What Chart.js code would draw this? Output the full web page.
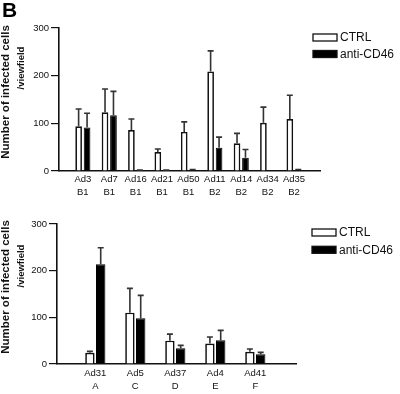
<!DOCTYPE html>
<html>
<head>
<meta charset="utf-8">
<script src="https://cdn.jsdelivr.net/npm/chart.js@4/dist/chart.umd.min.js"></script>
<style>
  body { margin: 0; background: #fff; }
  #wrap { position: relative; width: 400px; height: 394px; }
  canvas { position: absolute; left: 0; }
  #topChart { top: 0; }
  #bottomChart { top: 200px; }
</style>
</head>
<body>
<div id="wrap">
  <canvas id="topChart" width="400" height="200"></canvas>
  <canvas id="bottomChart" width="400" height="194"></canvas>
</div>
<script>
// top panel: species B
const topNames = ["Ad3", "Ad7", "Ad16", "Ad21", "Ad50", "Ad11", "Ad14", "Ad34", "Ad35"];
const topGroups = ["B1", "B1", "B1", "B1", "B1", "B2", "B2", "B2", "B2"];
const topCtrl = [94, 123, 86, 40, 82, 209, 58, 101, 109];
const topCtrlErr = [36, 49, 23, 6, 21, 43, 21, 33, 50];
const topCd46 = [91, 117, 1, 1, 2, 49, 28, 0, 2];
const topCd46Err = [30, 50, 1, 1, 1, 22, 17, 0, 1];

// bottom panel: other species
const botNames = ["Ad31", "Ad5", "Ad37", "Ad4", "Ad41"];
const botGroups = ["A", "C", "D", "E", "F"];
const botCtrl = [24, 110, 50, 44, 26];
const botCtrlErr = [3, 52, 14, 14, 6];
const botCd46 = [214, 98, 34, 51, 21];
const botCd46Err = [35, 49, 6, 21, 4];

const yTicks = [0, 100, 200, 300];
const seriesNames = ["CTRL", "anti-CD46"];
const yTitle = ["Number of infected cells", "/viewfield"];

const INK = "#111";
const FONT = "'Liberation Sans', Arial, sans-serif";

// error bars: upper whisker with a cap
const errorBars = {
    id: "errorBars",
    afterDatasetsDraw(chart) {
        const ctx = chart.ctx;
        const yScale = chart.scales.y;
        chart.data.datasets.forEach((ds, i) => {
            chart.getDatasetMeta(i).data.forEach((bar, j) => {
                const e = ds.errors[j];
                if (!e) return;
                const top = yScale.getPixelForValue(ds.data[j].y + e);
                ctx.save();
                ctx.strokeStyle = "#333";
                ctx.lineWidth = 1.6;
                ctx.beginPath();
                ctx.moveTo(bar.x, bar.y);
                ctx.lineTo(bar.x, top);
                ctx.moveTo(bar.x - 3, top);
                ctx.lineTo(bar.x + 3, top);
                ctx.stroke();
                ctx.restore();
            });
        });
    }
};

// legend boxes, rotated y title and panel letter
const decor = {
    id: "decor",
    afterDraw(chart, args, opts) {
        const ctx = chart.ctx;
        ctx.save();
        // legend
        chart.data.datasets.forEach((ds, i) => {
            const cy = opts.legendY[i];
            ctx.fillStyle = ds.backgroundColor;
            ctx.fillRect(opts.legendX, cy - 3.5, 24, 7);
            ctx.strokeStyle = INK;
            ctx.lineWidth = 1.3;
            ctx.strokeRect(opts.legendX, cy - 3.5, 24, 7);
            ctx.fillStyle = INK;
            ctx.font = "12px " + FONT;
            ctx.textAlign = "left";
            ctx.textBaseline = "middle";
            ctx.fillText(ds.label, opts.legendX + 27, cy + 0.5);
        });
        // y title
        opts.title.forEach((t, i) => {
            ctx.save();
            ctx.translate(t.x, t.y);
            ctx.rotate(-Math.PI / 2);
            ctx.font = "bold " + t.size + "px " + FONT;
            ctx.fillStyle = INK;
            ctx.textAlign = "center";
            ctx.textBaseline = "middle";
            ctx.fillText(yTitle[i], 0, 0);
            ctx.restore();
        });
        if (opts.letter) {
            ctx.font = "bold 21px " + FONT;
            ctx.fillStyle = "#000";
            ctx.textAlign = "left";
            ctx.textBaseline = "alphabetic";
            ctx.fillText(opts.letter, 2, 17);
        }
        ctx.restore();
    }
};

function makeChart(id, cfg) {
    const names = cfg.names;
    return new Chart(document.getElementById(id), {
        type: "bar",
        data: {
            datasets: [
                {
                    label: seriesNames[0],
                    data: cfg.ctrl.map((v, i) => ({ x: i, y: v })),
                    errors: cfg.ctrlErr,
                    backgroundColor: "#ffffff",
                    borderColor: INK,
                    borderWidth: 1.7
                },
                {
                    label: seriesNames[1],
                    data: cfg.cd46.map((v, i) => ({ x: i, y: v })),
                    errors: cfg.cd46Err,
                    backgroundColor: "#000000",
                    borderColor: "#000000",
                    borderWidth: 1
                }
            ]
        },
        options: {
            responsive: false,
            animation: false,
            devicePixelRatio: 1,
            categoryPercentage: cfg.catPct,
            barPercentage: cfg.barPct,
            layout: { padding: { top: cfg.top, right: cfg.right, left: 0, bottom: 0 } },
            plugins: {
                legend: { display: false },
                tooltip: { enabled: false },
                decor: cfg.decor
            },
            scales: {
                x: {
                    type: "linear",
                    min: cfg.xMin,
                    max: cfg.xMax,
                    afterBuildTicks: s => { s.ticks = names.map((_, i) => ({ value: i })); },
                    afterFit: s => { s.height = cfg.xHeight; },
                    grid: { display: false, drawTicks: false },
                    border: { display: true, color: INK, width: 1.6 },
                    ticks: {
                        autoSkip: false,
                        maxRotation: 0,
                        padding: cfg.labelPad,
                        color: INK,
                        font: { family: FONT, size: 9.5, lineHeight: cfg.lineH },
                        callback: v => [names[v], cfg.groups[v]]
                    }
                },
                y: {
                    min: 0,
                    max: 300,
                    afterBuildTicks: s => { s.ticks = yTicks.map(v => ({ value: v })); },
                    afterFit: s => { s.width = cfg.axisX; },
                    grid: { drawOnChartArea: false, drawTicks: true, tickLength: 8, color: INK, lineWidth: 1.2 },
                    border: { display: true, color: INK, width: 1.6 },
                    ticks: { padding: 2, color: INK, font: { family: FONT, size: 9.5 } }
                }
            }
        },
        plugins: [errorBars, decor]
    });
}

makeChart("topChart", {
    names: topNames, groups: topGroups,
    ctrl: topCtrl, ctrlErr: topCtrlErr, cd46: topCd46, cd46Err: topCd46Err,
    xMin: -0.354, xMax: 8.434, catPct: 0.64, barPct: 0.79,
    top: 28, right: 80, axisX: 59, xHeight: 29, labelPad: 1.2, lineH: 1.45,
    decor: {
        legendX: 313, legendY: [37.5, 54],
        title: [{ x: 5.5, y: 92, size: 11.5 }, { x: 21, y: 68, size: 9.5 }],
        letter: "B"
    }
});

makeChart("bottomChart", {
    names: botNames, groups: botGroups,
    ctrl: botCtrl, ctrlErr: botCtrlErr, cd46: botCd46, cd46Err: botCd46Err,
    xMin: -0.36, xMax: 4.42, catPct: 0.54, barPct: 0.87,
    top: 24, right: 104, axisX: 57, xHeight: 30, labelPad: 2.7, lineH: 1.4,
    decor: {
        legendX: 312, legendY: [32.5, 49.8],
        title: [{ x: 5.5, y: 87, size: 11.5 }, { x: 21, y: 66, size: 9.5 }],
        letter: null
    }
});
</script>
</body>
</html>
